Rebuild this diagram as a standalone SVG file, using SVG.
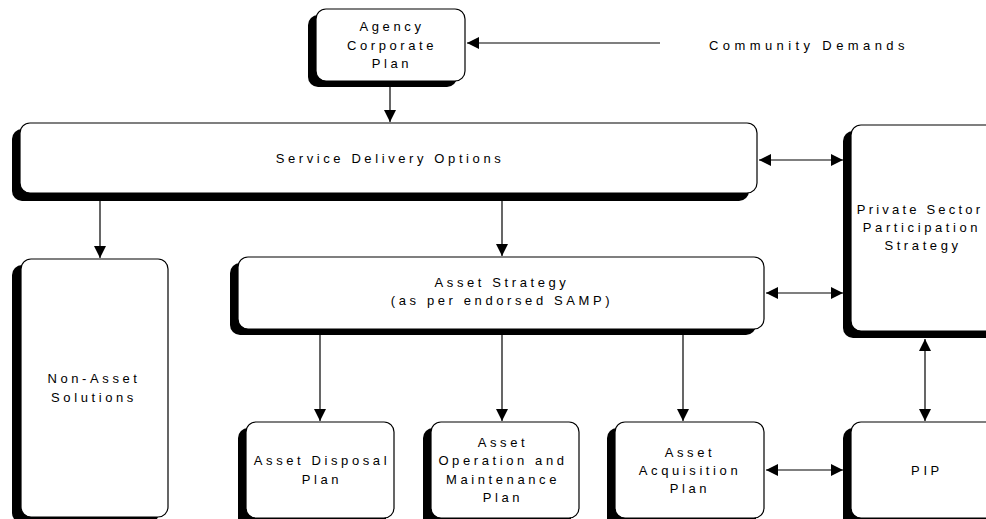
<svg xmlns="http://www.w3.org/2000/svg" width="986" height="519" viewBox="0 0 986 519">
  <style>
    .shadow { fill: #000; }
    .box { fill: #fff; stroke: #000; stroke-width: 1.2; }
    text { font-family: "Liberation Sans", Arial, sans-serif; font-size: 13px; letter-spacing: 3.6px; fill: #000; text-anchor: middle; }
    .wide { letter-spacing: 4.4px; text-anchor: start; }
    .tight { letter-spacing: 3.2px; }
    .conn { stroke: #000; stroke-width: 1.2; fill: none; }
  </style>
  <defs>
    <marker id="arrow" viewBox="0 0 10 10" refX="10" refY="5" markerWidth="12" markerHeight="12" markerUnits="userSpaceOnUse" orient="auto-start-reverse">
      <path d="M0,0 L10,5 L0,10 z" fill="#000"/>
    </marker>
  </defs>
  <rect width="986" height="519" fill="#fff"/>

  <!-- connectors -->
  <g id="connectors">
    <line class="conn" x1="660" y1="43" x2="467" y2="43" marker-end="url(#arrow)"/>
    <line class="conn" x1="390" y1="87" x2="390" y2="122" marker-end="url(#arrow)"/>
    <line class="conn" x1="100" y1="201" x2="100" y2="258" marker-end="url(#arrow)"/>
    <line class="conn" x1="502" y1="201" x2="502" y2="256" marker-end="url(#arrow)"/>
    <line class="conn" x1="759" y1="160" x2="843" y2="160" marker-start="url(#arrow)" marker-end="url(#arrow)"/>
    <line class="conn" x1="766" y1="293" x2="843" y2="293" marker-start="url(#arrow)" marker-end="url(#arrow)"/>
    <line class="conn" x1="320" y1="330" x2="320" y2="421" marker-end="url(#arrow)"/>
    <line class="conn" x1="502" y1="335" x2="502" y2="421" marker-end="url(#arrow)"/>
    <line class="conn" x1="683" y1="335" x2="683" y2="421" marker-end="url(#arrow)"/>
    <line class="conn" x1="925" y1="339" x2="925" y2="421" marker-start="url(#arrow)" marker-end="url(#arrow)"/>
    <line class="conn" x1="766" y1="470" x2="843" y2="470" marker-start="url(#arrow)" marker-end="url(#arrow)"/>
  </g>

  <!-- Agency Corporate Plan -->
  <g id="agency">
    <rect class="shadow" x="308" y="15" width="149" height="72" rx="10"/>
    <rect class="box" x="316" y="9" width="149" height="72" rx="10"/>
    <text x="392" y="31">Agency</text>
    <text x="392" y="50">Corporate</text>
    <text x="392" y="68">Plan</text>
  </g>

  <text class="wide" x="709" y="50">Community Demands</text>

  <!-- Service Delivery Options -->
  <g id="service">
    <rect class="shadow" x="12" y="129" width="737" height="72" rx="10"/>
    <rect class="box" x="20" y="123" width="737" height="70" rx="10"/>
    <text x="390" y="163">Service Delivery Options</text>
  </g>

  <!-- Private Sector Participation Strategy -->
  <g id="private">
    <rect class="shadow" x="843" y="131" width="160" height="207" rx="10"/>
    <rect class="box" x="851" y="125" width="160" height="206" rx="10"/>
    <text class="tight" x="920" y="214">Private Sector</text>
    <text x="922" y="232">Participation</text>
    <text x="923" y="250">Strategy</text>
  </g>

  <!-- Non-Asset Solutions -->
  <g id="nonasset">
    <rect class="shadow" x="12" y="265" width="147" height="258" rx="10"/>
    <rect class="box" x="21" y="259" width="147" height="258" rx="10"/>
    <text x="94" y="383">Non-Asset</text>
    <text x="94" y="402">Solutions</text>
  </g>

  <!-- Asset Strategy -->
  <g id="strategy">
    <rect class="shadow" x="230" y="263" width="526" height="72" rx="10"/>
    <rect class="box" x="238" y="257" width="526" height="72" rx="10"/>
    <text x="502" y="287">Asset Strategy</text>
    <text x="502" y="305">(as per endorsed SAMP)</text>
  </g>

  <!-- Asset Disposal Plan -->
  <g id="disposal">
    <rect class="shadow" x="238" y="428" width="148" height="100" rx="10"/>
    <rect class="box" x="246" y="422" width="148" height="96" rx="10"/>
    <text x="322" y="465">Asset Disposal</text>
    <text x="322" y="484">Plan</text>
  </g>

  <!-- Asset Operation and Maintenance Plan -->
  <g id="operation">
    <rect class="shadow" x="423" y="428" width="148" height="100" rx="10"/>
    <rect class="box" x="431" y="422" width="148" height="96" rx="10"/>
    <text x="503" y="447">Asset</text>
    <text x="503" y="465">Operation and</text>
    <text x="503" y="484">Maintenance</text>
    <text x="503" y="502">Plan</text>
  </g>

  <!-- Asset Acquisition Plan -->
  <g id="acquisition">
    <rect class="shadow" x="607" y="428" width="149" height="100" rx="10"/>
    <rect class="box" x="615" y="422" width="149" height="96" rx="10"/>
    <text x="690" y="457">Asset</text>
    <text x="690" y="475">Acquisition</text>
    <text x="690" y="493">Plan</text>
  </g>

  <!-- PIP -->
  <g id="pip">
    <rect class="shadow" x="843" y="428" width="160" height="100" rx="10"/>
    <rect class="box" x="851" y="422" width="160" height="96" rx="10"/>
    <text x="927" y="475">PIP</text>
  </g>
</svg>
